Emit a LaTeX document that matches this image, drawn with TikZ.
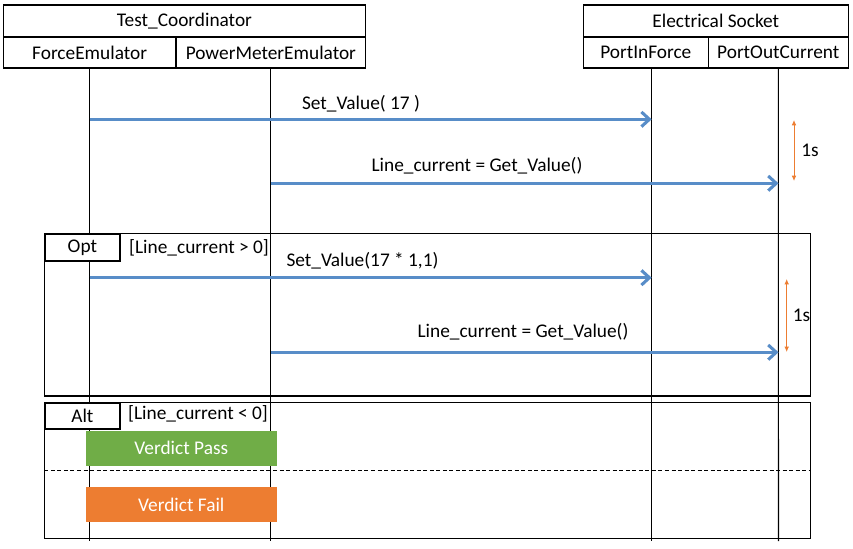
\documentclass[tikz,border=0pt]{standalone}
\usepackage{fontspec}
\setmainfont{Carlito}
\usetikzlibrary{arrows.meta}
\definecolor{msgblue}{RGB}{88,141,200}
\definecolor{timeorange}{RGB}{237,125,49}
\definecolor{passgreen}{RGB}{112,173,71}
\definecolor{failorange}{RGB}{237,125,49}
\def\u{0.75pt}
\tikzset{
  txt/.style={font=\fontsize{14.5}{17}\selectfont, inner sep=0pt},
  hdrbox/.style={draw, line width=0.8pt, inner sep=0pt, font=\fontsize{14.5}{17}\selectfont},
  lifeline/.style={line width=0.8pt},
  frame/.style={draw, line width=0.9pt},
  tab/.style={draw, fill=white, line width=0.9pt, inner sep=0pt, anchor=north west, font=\fontsize{14.5}{17}\selectfont},
  msg/.style={draw=msgblue, line width=2.3pt, -{Straight Barb[length=6pt,width=11pt,line width=2.3pt]}},
  timer/.style={draw=timeorange, line width=0.7pt, {Latex[length=4pt,width=3.5pt]}-{Latex[length=4pt,width=3.5pt]}},
  verdict/.style={inner sep=0pt, text=white, font=\fontsize{14.5}{17}\selectfont, minimum width=190.7*\u, minimum height=34.7*\u},
}
\begin{document}
\begin{tikzpicture}[x=0.75pt,y=-0.75pt]
\useasboundingbox[fill=white] (0,0) rectangle (853,549);

% headers
\node[hdrbox, minimum width=362.4*\u, minimum height=32*\u] (tc) at (184.5,21) {Test\_Coordinator};
\node[hdrbox, minimum width=172.7*\u, minimum height=31*\u] (fe) at (89.65,52.5) {ForceEmulator};
\node[hdrbox, minimum width=189.7*\u, minimum height=31*\u] (pme) at (270.85,52.5) {PowerMeterEmulator};
\node[hdrbox, minimum width=265*\u, minimum height=32*\u] (es) at (715.8,21) {Electrical Socket};
\node[hdrbox, minimum width=125*\u, minimum height=31*\u] (pif) at (645.8,52.5) {PortInForce};
\node[hdrbox, minimum width=140*\u, minimum height=31*\u] (poc) at (778.3,52.5) {PortOutCurrent};

% frames
\draw[frame] (44.3,233.3) rectangle (810.7,396);
\node[txt] (optg) at (199,247.5) {[Line\_current > 0]};
\draw[frame] (44.3,402.3) rectangle (810.7,538.3);
\node[txt] (altg) at (198,413.5) {[Line\_current < 0]};
\draw[line width=0.7pt, dash pattern=on 3pt off 1.9pt] (44.3,470.3) -- (810.7,470.3);

% lifelines
\coordinate (feB) at (89.65,541);
\coordinate (pmeB) at (270.85,541);
\coordinate (pifT) at (651.7,68);
\coordinate (pifB) at (651.7,541);
\coordinate (pocB) at (778.5,541);
\draw[lifeline] (fe.south) -- (feB);
\draw[lifeline] (pme.south) -- (pmeB);
\draw[lifeline] (pifT) -- (pifB);
\draw[lifeline] (poc.south) -- (pocB);

% frame tabs
\node[tab, minimum width=75*\u, minimum height=27*\u] (opt) at (44.3,233.3) {Opt};
\node[tab, minimum width=75*\u, minimum height=26*\u] (alt) at (44.3,402.3) {Alt};

% messages
\coordinate (m1s) at (89.65,119.3); \coordinate (m1e) at (651.7,119.3);
\coordinate (m2s) at (270.85,183.3); \coordinate (m2e) at (778.5,183.3);
\coordinate (m3s) at (89.65,277.7); \coordinate (m3e) at (651.7,277.7);
\coordinate (m4s) at (270.85,352.3); \coordinate (m4e) at (778.5,352.3);
\draw[msg] (m1s) -- (m1e);
\draw[msg] (m2s) -- (m2e);
\draw[msg] (m3s) -- (m3e);
\draw[msg] (m4s) -- (m4e);
\node[txt] (l1) at (361,104) {Set\_Value( 17 )};
\node[txt] (l2) at (477,166) {Line\_current = Get\_Value()};
\node[txt] (l3) at (362.5,261) {Set\_Value(17 * 1,1)};
\node[txt] (l4) at (523,331.5) {Line\_current = Get\_Value()};

% timers
\coordinate (t1a) at (794,120); \coordinate (t1b) at (794,181);
\draw[timer] (t1a) -- (t1b);
\node[txt] (t1l) at (810,150) {1s};
\coordinate (t2a) at (786.7,279); \coordinate (t2b) at (786.7,352);
\draw[timer] (t2a) -- (t2b);
\node[txt] (t2l) at (801.5,315) {1s};

% verdicts
\node[verdict, fill=passgreen] (pass) at (181.3,448.3) {Verdict Pass};
\node[verdict, fill=failorange] (fail) at (181.3,504.5) {Verdict Fail};
\end{tikzpicture}
\end{document}
